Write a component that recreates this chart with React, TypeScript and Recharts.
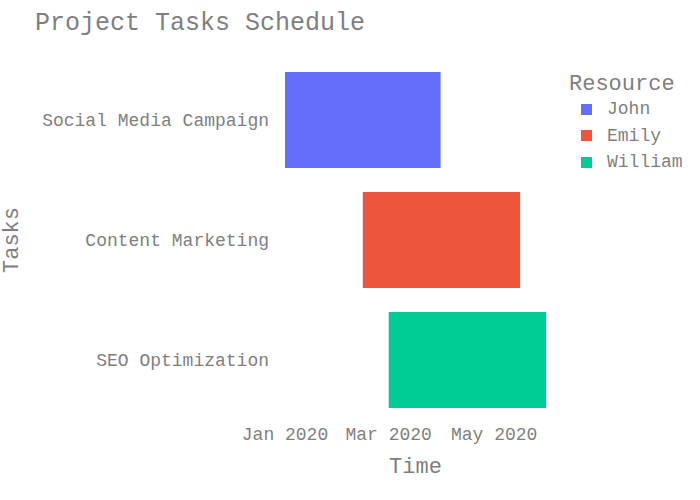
import { BarChart, Bar, XAxis, YAxis, Cell, Label } from "recharts";

const tasks = ["Social Media Campaign", "Content Marketing", "SEO Optimization"];
const starts = ["2020-01-01", "2020-02-15", "2020-03-01"];
const ends = ["2020-03-31", "2020-05-16", "2020-05-31"];
const resources = ["John", "Emily", "William"];
const resourceColors = ["#636efa", "#ef553b", "#00cc96"];
const tickDates = ["2020-01-01", "2020-03-01", "2020-05-01"];
const tickLabels = ["Jan 2020", "Mar 2020", "May 2020"];

const FONT = "'Liberation Mono', 'DejaVu Sans Mono', monospace";
const GRAY = "#7f7f7f";

const toTs = (s: string) => Date.parse(s + "T00:00:00Z");

const rows = tasks.map((t, i) => ({
  task: t,
  range: [toTs(starts[i]), toTs(ends[i])],
  resource: resources[i],
}));

const domainMin = Math.min(...starts.map(toTs));
const domainMax = Math.max(...ends.map(toTs));
const ticks = tickDates.map(toTs);

const fmt = (v: number) => {
  const i = ticks.indexOf(v);
  return i >= 0 ? tickLabels[i] : "";
};

const YTitle = ({ viewBox }: any) => {
  const cy = viewBox.y + viewBox.height / 2;
  return (
    <text x={12} y={cy} transform={`rotate(-90 12 ${cy})`} textAnchor="middle" dominantBaseline="central"
      fill={GRAY} fontSize={22} fontFamily={FONT}>Tasks</text>
  );
};

const XTitle = ({ viewBox }: any) => {
  const cx = viewBox.x + viewBox.width / 2;
  return (
    <text x={cx} y={467} textAnchor="middle" dominantBaseline="central"
      fill={GRAY} fontSize={22} fontFamily={FONT}>Time</text>
  );
};

export default function App() {
  return (
    <div style={{ position: "absolute", left: 0, top: 0, width: 700, height: 500, background: "#fff", fontFamily: FONT, color: GRAY }}>
      <div style={{ position: "absolute", left: 35, top: 9, fontSize: 25, lineHeight: "30px", whiteSpace: "nowrap" }}>
        Project Tasks Schedule
      </div>
      <BarChart width={700} height={500} data={rows} layout="vertical"
        margin={{ top: 60, right: 154, bottom: 0, left: 0 }} barCategoryGap="10%">
        <XAxis type="number" domain={[domainMin, domainMax]} ticks={ticks} tickFormatter={fmt}
          allowDataOverflow height={80} axisLine={false} tickLine={false} tickSize={0} tickMargin={7}
          tick={{ fill: GRAY, fontSize: 18, fontFamily: FONT }} interval={0}>
          <Label content={<XTitle />} />
        </XAxis>
        <YAxis type="category" dataKey="task" width={285} axisLine={false} tickLine={false}
          tickSize={0} tickMargin={16} tick={{ fill: GRAY, fontSize: 18, fontFamily: FONT }} interval={0}>
          <Label content={<YTitle />} />
        </YAxis>
        <Bar dataKey="range" isAnimationActive={false}>
          {rows.map((r) => (
            <Cell key={r.task} fill={resourceColors[resources.indexOf(r.resource)]} />
          ))}
        </Bar>
      </BarChart>
      <div style={{ position: "absolute", left: 569, top: 72, fontSize: 22, lineHeight: "26px" }}>Resource</div>
      {resources.map((r, i) => (
        <div key={r} style={{ position: "absolute", left: 581, top: 96 + i * 26.5, height: 26.5, display: "flex", alignItems: "center", whiteSpace: "nowrap" }}>
          <span style={{ display: "inline-block", width: 11, height: 11, background: resourceColors[i], marginRight: 15 }} />
          <span style={{ fontSize: 18 }}>{r}</span>
        </div>
      ))}
    </div>
  );
}
